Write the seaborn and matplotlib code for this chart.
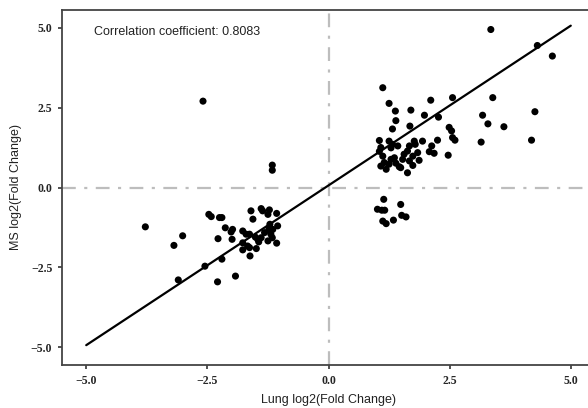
import matplotlib
matplotlib.use("Agg")
import matplotlib.pyplot as plt
import seaborn as sns
import pandas as pd

# Lung log2 fold change (x) and MS log2 fold change (y)
lung_fc = [
    -3.78, -3.19, -3.01, -3.10, -2.55, -2.29, -1.92, -2.20, -2.47, -2.42,
    -2.25, -2.20, -2.28, -1.60, -1.39, -1.36, -1.22, -1.25, -1.07, -1.56,
    -2.13, -1.98, -2.01, -1.77, -1.70, -1.63, -1.99, -1.51, -1.46, -1.21,
    -1.23, -1.15, -1.05, -1.32, -1.19, -1.39, -1.25, -1.16, -1.07, -1.77,
    -1.67, -1.77, -1.63, -1.62, -1.49, -1.16, -1.16, -2.59, -1.44,
    1.12, 1.25, 1.38, 1.70, 2.11, 2.56, 1.98, 2.27, 1.39, 1.68,
    1.32, 2.49, 2.54, 2.56, 2.61, 2.25, 1.94, 1.05, 1.25, 1.32,
    1.08, 1.29, 1.05, 1.12, 1.43, 1.67, 1.79, 1.77, 2.13, 2.18,
    2.08, 2.47, 1.56, 1.63, 1.84, 1.15, 1.08, 1.29, 1.25, 1.39,
    1.46, 1.53, 1.67, 1.74, 1.87, 1.63, 1.49, 1.74, 1.36, 1.19,
    3.35, 4.31, 4.62, 4.26, 4.19, 3.62, 3.29, 3.39, 3.18, 3.15,
    1.14, 1.01, 1.10, 1.16, 1.49, 1.12, 1.19, 1.34, 1.51, 1.60,
]
ms_fc = [
    -1.23, -1.81, -1.51, -2.89, -2.46, -2.95, -2.77, -2.24, -0.84, -0.91,
    -0.94, -0.94, -1.60, -0.73, -0.66, -0.73, -0.70, -0.84, -0.81, -0.99,
    -1.26, -1.31, -1.39, -1.36, -1.46, -1.46, -1.62, -1.55, -1.62, -1.15,
    -1.31, -1.31, -1.20, -1.41, -1.46, -1.57, -1.67, -1.57, -1.74, -1.73,
    -1.83, -1.95, -1.88, -2.14, -1.91, 0.70, 0.54, 2.70, -1.70,
    3.12, 2.63, 2.39, 2.42, 2.73, 2.81, 2.26, 2.20, 2.09, 1.92,
    1.83, 1.88, 1.77, 1.56, 1.48, 1.48, 1.45, 1.47, 1.45, 1.35,
    1.25, 1.24, 1.13, 0.98, 1.30, 1.30, 1.35, 1.45, 1.30, 1.07,
    1.12, 1.01, 1.04, 1.14, 1.09, 0.78, 0.67, 0.88, 0.73, 0.76,
    0.65, 0.88, 0.83, 0.98, 0.85, 0.46, 0.62, 0.69, 0.93, 0.57,
    4.94, 4.44, 4.11, 2.37, 1.48, 1.90, 1.99, 2.81, 2.26, 1.42,
    -0.37, -0.68, -0.71, -0.71, -0.53, -1.05, -1.13, -1.02, -0.87, -0.92,
]

fit_x = [-5.0, 5.0]
fit_y = [-4.93, 5.06]

corr_text = "Correlation coefficient: 0.8083"
x_label = "Lung log2(Fold Change)"
y_label = "MS log2(Fold Change)"
tick_values = [-5.0, -2.5, 0.0, 2.5, 5.0]
tick_labels = ["\u22125.0", "\u22122.5", "0.0", "2.5", "5.0"]

sns.set_style("ticks")
plt.rcParams["font.family"] = ["Liberation Sans", "DejaVu Sans"]

df = pd.DataFrame({"lung": lung_fc, "ms": ms_fc})
fit_df = pd.DataFrame({"x": fit_x, "y": fit_y})

fig = plt.figure(figsize=(5.88, 4.08), dpi=100)
ax = fig.add_axes([62 / 588, 1 - 365 / 408, (595 - 62) / 588, (365 - 10) / 408])

ref_kw = dict(color="#bdbdbd", linewidth=1.6, zorder=1)
hl = ax.axhline(0, **ref_kw)
vl = ax.axvline(0, **ref_kw)
for ln in (hl, vl):
    ln.set_dashes((6.2, 3.8, 1.4, 3.8))

sns.scatterplot(data=df, x="lung", y="ms", ax=ax, color="black", s=26,
                edgecolor="none", linewidth=0, zorder=3)
sns.lineplot(data=fit_df, x="x", y="y", ax=ax, color="black", linewidth=1.6,
             zorder=4)

ax.set_xlim(-5.5, 5.5)
ax.set_ylim(-5.55, 5.55)
ax.set_xticks(tick_values)
ax.set_yticks(tick_values)
ax.set_xticklabels(tick_labels)
ax.set_yticklabels(tick_labels)
for lab in ax.get_xticklabels() + ax.get_yticklabels():
    lab.set_fontfamily("Liberation Serif")
    lab.set_fontweight("bold")
    lab.set_fontsize(8.5)
ax.tick_params(axis="both", length=3, width=1.2, color="#333333", pad=4)

ax.set_xlabel(x_label, fontsize=9, color="#222222", labelpad=5)
ax.set_ylabel(y_label, fontsize=9, color="#222222", labelpad=6)

for sp in ax.spines.values():
    sp.set_color("#444444")
    sp.set_linewidth(1.3)

ax.text(-4.84, 4.86, corr_text, fontsize=9, ha="left", va="center",
        color="#222222")

fig.savefig("out.png", dpi=100)
